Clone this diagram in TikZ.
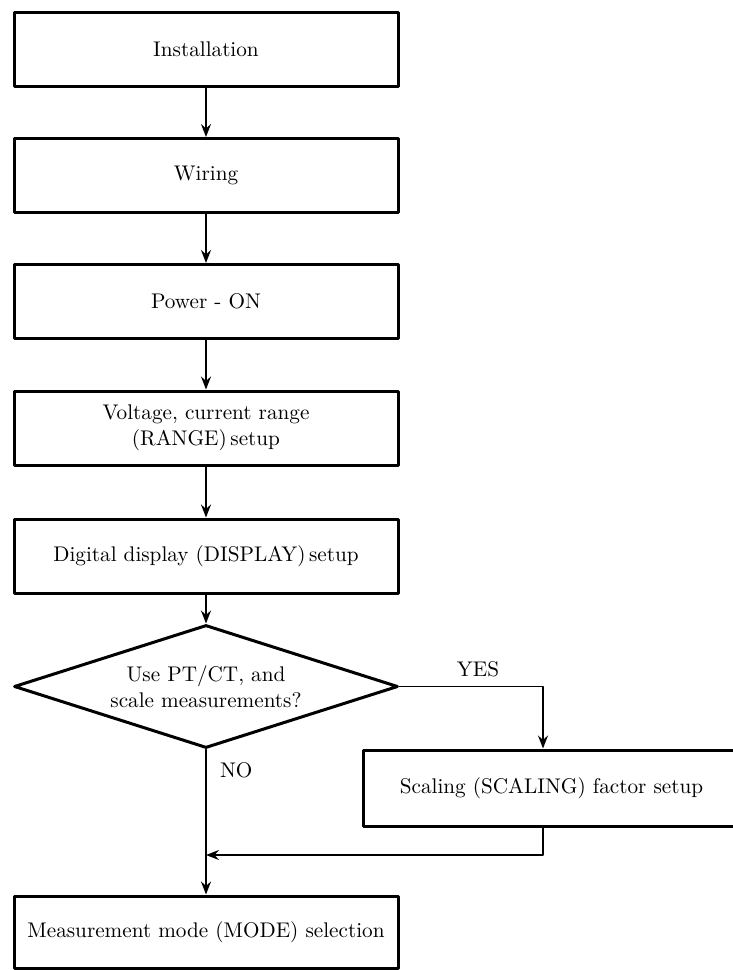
\documentclass[tikz,border=0pt]{standalone}
\usepackage{amsmath}
\usetikzlibrary{calc, positioning}
\usetikzlibrary{arrows.meta}
\usetikzlibrary{shapes.geometric}

\begin{document}
\begin{tikzpicture}[x=0.5pt,y=-0.5pt,line cap=round,line join=round,
  every node/.style={font=\fontsize{10.6}{13}\selectfont},
  stepbox/.style={draw,line width=1.5pt,minimum width=192pt,minimum height=37pt,
    inner sep=0pt,align=center},
  askbox/.style={draw,diamond,aspect=3.1,line width=1.5pt,minimum width=192pt,
    minimum height=61.5pt,inner sep=0pt,align=center},
  flow/.style={line width=0.9pt,-{Stealth[length=6.5pt,width=5pt,inset=2.2pt]}}]
\useasboundingbox (0,0) rectangle (733,970);

\node[stepbox] (inst) at (206,49.5) {Installation};
\node[stepbox] (wire) at (206,175.5) {Wiring};
\node[stepbox] (power) at (206,301.5) {Power - ON};
\node[stepbox] (range) at (206,428) {Voltage, current range\\(RANGE)\,setup};
\node[stepbox] (disp) at (206,556) {Digital display (DISPLAY)\,setup};
\node[askbox] (ask) at (206,686.5) {Use PT/CT, and\\scale measurements?};
\node[stepbox,minimum width=188.5pt,minimum height=38pt] (scal) at (551.5,788)
  {Scaling (SCALING) factor setup};
\node[stepbox,minimum height=36pt] (mode) at (206,932) {Measurement mode (MODE) selection};
\coordinate (join) at (206,855);

\draw[flow] (inst) -- (wire);
\draw[flow] (wire) -- (power);
\draw[flow] (power) -- (range);
\draw[flow] (range) -- (disp);
\draw[flow] (disp) -- (ask);
\draw[flow] (ask.east) -| ([xshift=-4.25pt]scal.north);
\draw[flow] (ask.south) -- (mode.north);
\draw[flow] ([xshift=-4.25pt]scal.south) |- (join);

\node[above=1pt] at (478,686) {YES};
\node[anchor=west] at (213,770) {NO};
\end{tikzpicture}
\end{document}
